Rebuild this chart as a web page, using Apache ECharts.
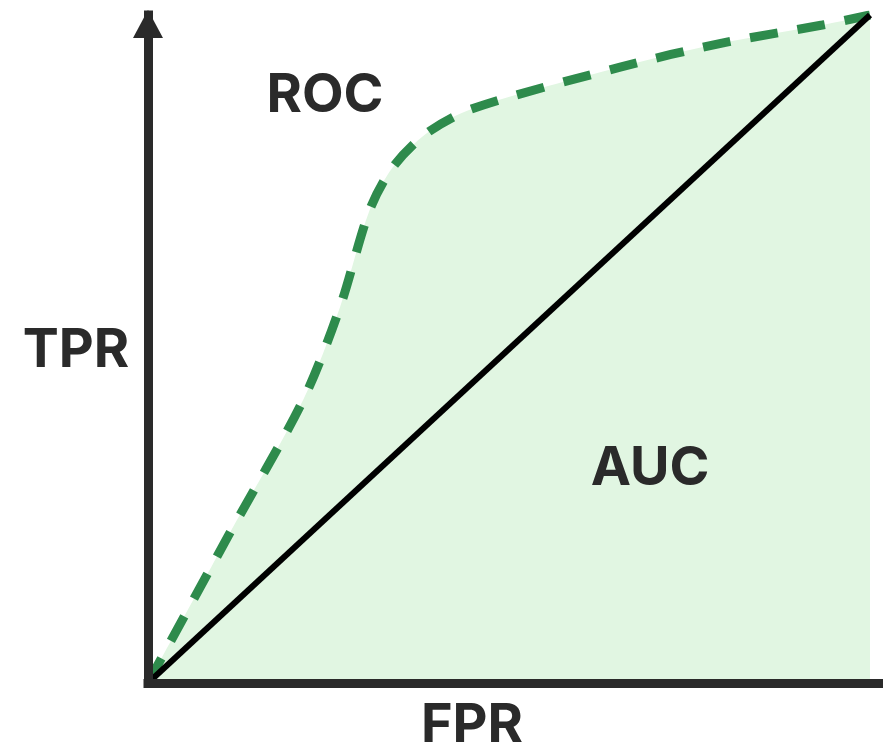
<!DOCTYPE html>
<html>
<head>
<meta charset="utf-8">
<script src="https://cdn.jsdelivr.net/npm/echarts@6/dist/echarts.min.js"></script>
<style>
  html, body { margin: 0; padding: 0; background: #fff; }
  #chart { width: 883px; height: 747px; }
</style>
</head>
<body>
<div id="chart"></div>
<script>
// ROC curve (FPR, TPR)
const fpr = [0, 0.110, 0.215, 0.266, 0.307, 0.339, 0.386, 0.450, 0.654, 0.795, 0.934, 1]
const tpr = [0, 0.218, 0.424, 0.563, 0.708, 0.772, 0.823, 0.860, 0.922, 0.958, 0.985, 1]
// chance line
const diagX = [0, 1]
const diagY = [0, 1]
const labels = ['ROC', 'AUC', 'TPR', 'FPR']

const INK = '#2a2a2a'
const GREEN = '#2e8b4c'
const FILL = '#e1f6e2'
const font = (s) => `bold ${s}px Inter, "Open Sans", sans-serif`

const chart = echarts.init(document.getElementById('chart'), null, { renderer: 'canvas' })
const axisCommon = {
  type: 'value', z: 10,
  axisTick: { show: false }, axisLabel: { show: false }, splitLine: { show: false },
}
const txt = (t, x, y) => ({
  type: 'text', x, y, z: 20,
  style: { text: t, font: font(54), fill: INK, align: 'center', verticalAlign: 'middle' },
})

chart.setOption({
  animation: false,
  grid: { left: 148, right: 0, top: 15, bottom: 64 },
  xAxis: {
    ...axisCommon, min: 0, max: 1.018,
    axisLine: { lineStyle: { color: INK, width: 9, cap: 'square' } },
  },
  yAxis: {
    ...axisCommon, min: 0, max: 1,
    axisLine: {
      symbol: ['none', 'triangle'], symbolSize: [30, 28], symbolOffset: [0, -9],
      lineStyle: { color: INK, width: 9, cap: 'square' },
    },
  },
  series: [
    {
      type: 'line', smooth: 0.3, symbol: 'none',
      data: fpr.map((v, i) => [v, tpr[i]]),
      lineStyle: { color: GREEN, width: 9, type: [28, 20], cap: 'butt' },
      areaStyle: { color: FILL, opacity: 1 },
    },
    {
      type: 'line', symbol: 'none', z: 3,
      data: diagX.map((v, i) => [v, diagY[i]]),
      lineStyle: { color: '#000', width: 6 },
    },
  ],
  graphic: [
    txt(labels[0], 325, 96),
    txt(labels[1], 650, 469),
    txt(labels[2], 76, 351),
    txt(labels[3], 472, 726),
  ],
})
</script>
</body>
</html>
